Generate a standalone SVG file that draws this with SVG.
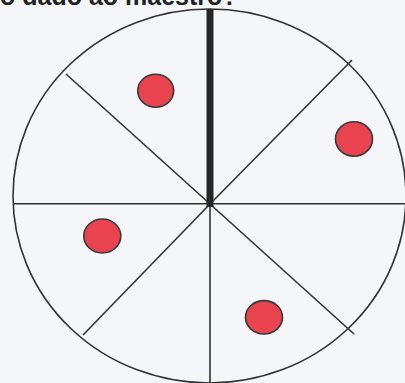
<svg xmlns="http://www.w3.org/2000/svg" width="405" height="383" viewBox="0 0 405 383">
  <style>
    .ln { stroke: #333; stroke-width: 1.6; fill: none; stroke-linecap: butt; }
    .dot { fill: #e8434f; stroke: #3a3a3a; stroke-width: 1.6; }
    .title { font-family: "Liberation Sans", Arial, sans-serif; font-weight: bold; font-size: 25px; fill: #222; }
  </style>
  <rect x="0" y="0" width="405" height="383" fill="#f4f6fa"/>
  <text class="title" x="0" y="5">o dado ao maestro?</text>
  <g id="wheel">
    <ellipse class="ln" cx="209.5" cy="196" rx="196.5" ry="187"/>
  </g>
  <g id="connectors">
    <line class="ln" x1="13" y1="203.8" x2="405" y2="203.8"/>
    <line class="ln" x1="210" y1="204" x2="210" y2="383"/>
    <line class="ln" x1="66" y1="74" x2="210" y2="204"/>
    <line class="ln" x1="210" y1="204" x2="352" y2="60"/>
    <line class="ln" x1="210" y1="204" x2="83" y2="335"/>
    <line class="ln" x1="210" y1="204" x2="354" y2="334"/>
    <line stroke="#262626" stroke-width="7" x1="210" y1="9" x2="210" y2="207"/>
  </g>
  <g id="dot1"><ellipse class="dot" cx="155.7" cy="90.7" rx="18" ry="16.5"/></g>
  <g id="dot2"><ellipse class="dot" cx="354" cy="139" rx="18.5" ry="17.2"/></g>
  <g id="dot3"><ellipse class="dot" cx="102.3" cy="236" rx="18.5" ry="17"/></g>
  <g id="dot4"><ellipse class="dot" cx="264" cy="317.3" rx="18.5" ry="16.7"/></g>
</svg>
